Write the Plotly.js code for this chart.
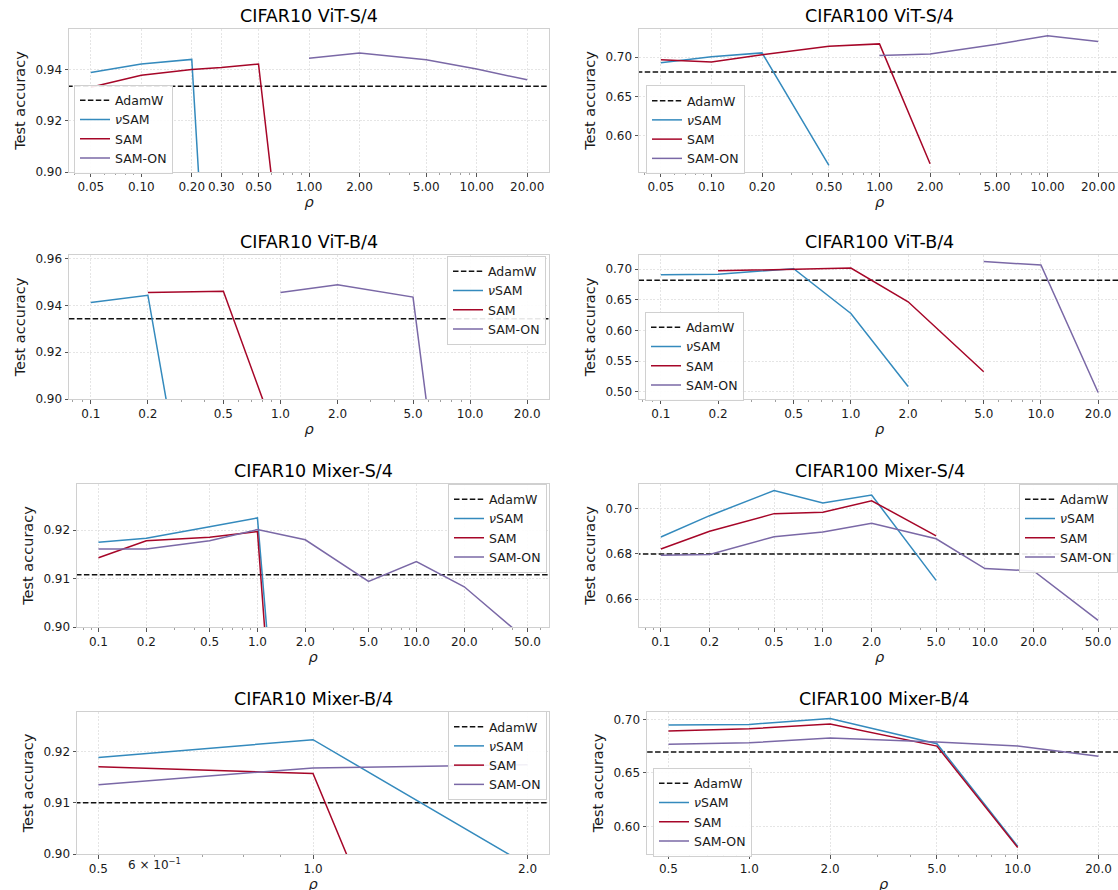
<!DOCTYPE html>
<html><head><meta charset="utf-8">
<script src="https://cdn.plot.ly/plotly-3.0.1.min.js"></script>
<style>html,body{margin:0;padding:0;overflow:hidden;background:#fff}#chart{width:1122px;height:900px}</style>
</head><body><div id="chart"></div><script>
// ---------------- DATA ----------------
// CIFAR10 ViT-S/4
const c10vits_nuSAM_rho = [0.05, 0.1, 0.2, 0.3];
const c10vits_nuSAM_acc = [0.9390, 0.9423, 0.9441, 0.750];
const c10vits_SAM_rho = [0.05, 0.1, 0.2, 0.3, 0.5, 1.0];
const c10vits_SAM_acc = [0.9332, 0.9379, 0.9401, 0.9409, 0.9423, 0.770];
const c10vits_SAMON_rho = [1, 2, 5, 10, 20];
const c10vits_SAMON_acc = [0.9445, 0.9466, 0.9440, 0.9403, 0.9361];
const c10vits_adamw = 0.9336;
const c10vits_ticks = [0.05, 0.1, 0.2, 0.3, 0.5, 1, 2, 5, 10, 20];

// CIFAR100 ViT-S/4
const c100vits_nuSAM_rho = [0.05, 0.1, 0.2, 0.5];
const c100vits_nuSAM_acc = [0.6930, 0.7005, 0.7055, 0.5620];
const c100vits_SAM_rho = [0.05, 0.1, 0.2, 0.5, 1, 2];
const c100vits_SAM_acc = [0.6968, 0.6940, 0.7030, 0.7140, 0.7170, 0.5640];
const c100vits_SAMON_rho = [1, 2, 5, 10, 20];
const c100vits_SAMON_acc = [0.7022, 0.7040, 0.7165, 0.7275, 0.7200];
const c100vits_adamw = 0.6812;
const c100vits_ticks = [0.05, 0.1, 0.2, 0.5, 1, 2, 5, 10, 20];

// CIFAR10 ViT-B/4
const c10vitb_nuSAM_rho = [0.1, 0.2, 0.5];
const c10vitb_nuSAM_acc = [0.9413, 0.9444, 0.760];
const c10vitb_SAM_rho = [0.2, 0.5, 1.0];
const c10vitb_SAM_acc = [0.9456, 0.9461, 0.879];
const c10vitb_SAMON_rho = [1, 2, 5, 10];
const c10vitb_SAMON_acc = [0.9456, 0.9489, 0.9436, 0.753];
const c10vitb_adamw = 0.9343;
const c10vitb_ticks = [0.1, 0.2, 0.5, 1, 2, 5, 10, 20];

// CIFAR100 ViT-B/4
const c100vitb_nuSAM_rho = [0.1, 0.2, 0.5, 1, 2];
const c100vitb_nuSAM_acc = [0.6910, 0.6920, 0.7010, 0.6280, 0.5090];
const c100vitb_SAM_rho = [0.2, 0.5, 1, 2, 5];
const c100vitb_SAM_acc = [0.6975, 0.6995, 0.7020, 0.6470, 0.5330];
const c100vitb_SAMON_rho = [5, 10, 20];
const c100vitb_SAMON_acc = [0.7125, 0.7070, 0.4990];
const c100vitb_adamw = 0.6820;
const c100vitb_ticks = [0.1, 0.2, 0.5, 1, 2, 5, 10, 20];

// CIFAR10 Mixer-S/4
const c10mixs_nuSAM_rho = [0.1, 0.2, 0.5, 1, 2];
const c10mixs_nuSAM_acc = [0.9175, 0.9183, 0.9207, 0.9225, 0.805];
const c10mixs_SAM_rho = [0.1, 0.2, 0.5, 1, 2];
const c10mixs_SAM_acc = [0.9143, 0.9178, 0.9185, 0.9197, 0.787];
const c10mixs_SAMON_rho = [0.1, 0.2, 0.5, 1, 2, 5, 10, 20, 50];
const c10mixs_SAMON_acc = [0.9161, 0.9161, 0.9178, 0.9201, 0.9180, 0.9094, 0.9135, 0.9083, 0.8972];
const c10mixs_adamw = 0.9108;
const c10mixs_ticks = [0.1, 0.2, 0.5, 1, 2, 5, 10, 20, 50];

// CIFAR100 Mixer-S/4
const c100mixs_nuSAM_rho = [0.1, 0.2, 0.5, 1, 2, 5];
const c100mixs_nuSAM_acc = [0.6875, 0.6969, 0.7080, 0.7025, 0.7060, 0.6683];
const c100mixs_SAM_rho = [0.1, 0.2, 0.5, 1, 2, 5];
const c100mixs_SAM_acc = [0.6822, 0.6900, 0.6978, 0.6984, 0.7035, 0.6880];
const c100mixs_SAMON_rho = [0.1, 0.2, 0.5, 1, 2, 5, 10, 20, 50];
const c100mixs_SAMON_acc = [0.6794, 0.6797, 0.6876, 0.6897, 0.6935, 0.6867, 0.6735, 0.6725, 0.6506];
const c100mixs_adamw = 0.6800;
const c100mixs_ticks = [0.1, 0.2, 0.5, 1, 2, 5, 10, 20, 50];

// CIFAR10 Mixer-B/4
const c10mixb_nuSAM_rho = [0.5, 1, 2];
const c10mixb_nuSAM_acc = [0.9188, 0.9223, 0.8978];
const c10mixb_SAM_rho = [0.5, 1, 2];
const c10mixb_SAM_acc = [0.9170, 0.9157, 0.815];
const c10mixb_SAMON_rho = [0.5, 1, 2];
const c10mixb_SAMON_acc = [0.9135, 0.9168, 0.9174];
const c10mixb_adamw = 0.9100;
const c10mixb_ticks = [0.5, 1, 2];

// CIFAR100 Mixer-B/4
const c100mixb_nuSAM_rho = [0.5, 1, 2, 5, 10];
const c100mixb_nuSAM_acc = [0.6947, 0.6953, 0.7009, 0.6773, 0.5816];
const c100mixb_SAM_rho = [0.5, 1, 2, 5, 10];
const c100mixb_SAM_acc = [0.6891, 0.6913, 0.6956, 0.6751, 0.5804];
const c100mixb_SAMON_rho = [0.5, 1, 2, 5, 10, 20];
const c100mixb_SAMON_acc = [0.6767, 0.6782, 0.6826, 0.6788, 0.6751, 0.6657];
const c100mixb_adamw = 0.6695;
const c100mixb_ticks = [0.5, 1, 2, 5, 10, 20];

const seriesNames = ['AdamW', '<i>ν</i>SAM', 'SAM', 'SAM-ON'];

// ---------------- LAYOUT / STYLE ----------------
const W = 1122, H = 900;
const FONT = 'DejaVu Sans, Liberation Sans, sans-serif';
const COLORS = {nu: '#348ABD', sam: '#A60628', samon: '#7A68A6', adamw: '#111111'};

const panels = [
  {title:'CIFAR10 ViT-S/4', nu:[c10vits_nuSAM_rho,c10vits_nuSAM_acc], sam:[c10vits_SAM_rho,c10vits_SAM_acc], samon:[c10vits_SAMON_rho,c10vits_SAMON_acc], adamw:c10vits_adamw, ticks:c10vits_ticks, dec:2,
   xr:[-1.431,1.431], yr:[0.90,0.956], yt:[0.90,0.92,0.94], px:[69,549], py:[29,172], leg:[74,129]},
  {title:'CIFAR100 ViT-S/4', nu:[c100vits_nuSAM_rho,c100vits_nuSAM_acc], sam:[c100vits_SAM_rho,c100vits_SAM_acc], samon:[c100vits_SAMON_rho,c100vits_SAMON_acc], adamw:c100vits_adamw, ticks:c100vits_ticks, dec:2,
   xr:[-1.431,1.431], yr:[0.5535,0.736], yt:[0.60,0.65,0.70], px:[639,1120], py:[29,172], leg:[646,129.5]},
  {title:'CIFAR10 ViT-B/4', nu:[c10vitb_nuSAM_rho,c10vitb_nuSAM_acc], sam:[c10vitb_SAM_rho,c10vitb_SAM_acc], samon:[c10vitb_SAMON_rho,c10vitb_SAMON_acc], adamw:c10vitb_adamw, ticks:c10vitb_ticks, dec:1,
   xr:[-1.115,1.416], yr:[0.90,0.9616], yt:[0.90,0.92,0.94,0.96], px:[69,549], py:[255,399], leg:[447,300]},
  {title:'CIFAR100 ViT-B/4', nu:[c100vitb_nuSAM_rho,c100vitb_nuSAM_acc], sam:[c100vitb_SAM_rho,c100vitb_SAM_acc], samon:[c100vitb_SAMON_rho,c100vitb_SAMON_acc], adamw:c100vitb_adamw, ticks:c100vitb_ticks, dec:1,
   xr:[-1.115,1.416], yr:[0.4885,0.7233], yt:[0.50,0.55,0.60,0.65,0.70], px:[639,1120], py:[255,399], leg:[645,356]},
  {title:'CIFAR10 Mixer-S/4', nu:[c10mixs_nuSAM_rho,c10mixs_nuSAM_acc], sam:[c10mixs_SAM_rho,c10mixs_SAM_acc], samon:[c10mixs_SAMON_rho,c10mixs_SAMON_acc], adamw:c10mixs_adamw, ticks:c10mixs_ticks, dec:1,
   xr:[-1.135,1.834], yr:[0.90,0.9295], yt:[0.90,0.91,0.92], px:[77,549], py:[484,627], leg:[448,528]},
  {title:'CIFAR100 Mixer-S/4', nu:[c100mixs_nuSAM_rho,c100mixs_nuSAM_acc], sam:[c100mixs_SAM_rho,c100mixs_SAM_acc], samon:[c100mixs_SAMON_rho,c100mixs_SAMON_acc], adamw:c100mixs_adamw, ticks:c100mixs_ticks, dec:1,
   xr:[-1.135,1.834], yr:[0.6477,0.7109], yt:[0.66,0.68,0.70], px:[639,1120], py:[484,627], leg:[1019,528]},
  {title:'CIFAR10 Mixer-B/4', nu:[c10mixb_nuSAM_rho,c10mixb_nuSAM_acc], sam:[c10mixb_SAM_rho,c10mixb_SAM_acc], samon:[c10mixb_SAMON_rho,c10mixb_SAMON_acc], adamw:c10mixb_adamw, ticks:c10mixb_ticks, dec:1,
   xr:[-0.331,0.331], yr:[0.90,0.9277], yt:[0.90,0.91,0.92], px:[77,549], py:[712,854], leg:[448,755.5], extraLabel:{v:0.6, text:'6 × 10<sup>−1</sup>'}},
  {title:'CIFAR100 Mixer-B/4', nu:[c100mixb_nuSAM_rho,c100mixb_nuSAM_acc], sam:[c100mixb_SAM_rho,c100mixb_SAM_acc], samon:[c100mixb_SAMON_rho,c100mixb_SAMON_acc], adamw:c100mixb_adamw, ticks:c100mixb_ticks, dec:1,
   xr:[-0.381,1.381], yr:[0.5744,0.7069], yt:[0.60,0.65,0.70], px:[647,1120], py:[712,854], leg:[653,812]}
];

function minorTicks(xr, major) {
  const out = [];
  for (let k = -3; k <= 3; k++) for (let m = 1; m <= 9; m++) {
    const v = m * Math.pow(10, k);
    const lv = Math.log10(v);
    if (lv < xr[0] || lv > xr[1]) continue;
    if (major.some(t => Math.abs(Math.log10(t) - lv) < 1e-6)) continue;
    out.push(v);
  }
  return out;
}

const data = [];
const layout = {
  width: W, height: H,
  margin: {l: 0, r: 0, t: 0, b: 0},
  paper_bgcolor: '#ffffff', plot_bgcolor: '#ffffff',
  font: {family: FONT, size: 12, color: '#1a1a1a'},
  annotations: [],
  showlegend: true
};

panels.forEach((p, i) => {
  const n = i + 1;
  const sfx = n === 1 ? '' : String(n);
  const xa = 'x' + sfx, ya = 'y' + sfx;
  const lg = 'legend' + sfx;
  const common = {xaxis: xa, yaxis: ya, legend: lg, mode: 'lines', hoverinfo: 'skip'};
  data.push(Object.assign({}, common, {x: [Math.pow(10, p.xr[0] - 1), Math.pow(10, p.xr[1] + 1)], y: [p.adamw, p.adamw], name: seriesNames[0], line: {color: COLORS.adamw, width: 1.5, dash: '5.5px,2.4px'}}));
  data.push(Object.assign({}, common, {x: p.nu[0], y: p.nu[1], name: seriesNames[1], line: {color: COLORS.nu, width: 1.5}}));
  data.push(Object.assign({}, common, {x: p.sam[0], y: p.sam[1], name: seriesNames[2], line: {color: COLORS.sam, width: 1.5}}));
  data.push(Object.assign({}, common, {x: p.samon[0], y: p.samon[1], name: seriesNames[3], line: {color: COLORS.samon, width: 1.5}}));

  const axBase = {
    showline: true, mirror: true, linecolor: '#d0d0d0', linewidth: 1,
    showgrid: true, gridcolor: '#dedede', gridwidth: 0.8, griddash: '2px,1.5px',
    ticks: 'outside', ticklen: 3.5, tickwidth: 1, tickcolor: '#555',
    zeroline: false, automargin: false, tickangle: 0,
    tickfont: {family: FONT, size: 12, color: '#1a1a1a'}
  };
  layout['xaxis' + sfx] = Object.assign({}, axBase, {
    type: 'log', range: p.xr, anchor: ya,
    domain: [p.px[0] / W, p.px[1] / W],
    tickmode: 'array', tickvals: p.ticks, ticktext: p.ticks.map(v => v.toFixed(p.dec)),
    minor: {tickmode: 'array', tickvals: minorTicks(p.xr, p.ticks), ticks: 'outside', ticklen: 2, tickwidth: 0.8, tickcolor: '#888', showgrid: false},
    title: {text: '<i>ρ</i>', font: {family: FONT, size: 14.5, color: '#1a1a1a'}, standoff: 3}
  });
  layout['yaxis' + sfx] = Object.assign({}, axBase, {
    range: p.yr, anchor: xa,
    domain: [1 - p.py[1] / H, 1 - p.py[0] / H],
    tickmode: 'array', tickvals: p.yt, ticktext: p.yt.map(v => v.toFixed(2)),
    title: {text: 'Test accuracy', font: {family: FONT, size: 14.5, color: '#1a1a1a'}, standoff: 6}
  });
  layout[lg] = {
    x: p.leg[0] / W, y: 1 - p.leg[1] / H, xref: 'paper', yref: 'paper',
    xanchor: 'left', yanchor: 'middle',
    bgcolor: 'rgba(255,255,255,0.9)', bordercolor: '#d0d0d0', borderwidth: 1,
    font: {family: FONT, size: 12.5, color: '#1a1a1a'},
    itemwidth: 30, tracegroupgap: 0
  };
  layout.annotations.push({
    text: p.title, xref: 'paper', yref: 'paper',
    x: (p.px[0] + p.px[1]) / 2 / W, y: 1 - p.py[0] / H,
    xanchor: 'center', yanchor: 'bottom', yshift: 1, showarrow: false,
    font: {family: FONT, size: 17.5, color: '#000'}
  });
  if (p.extraLabel) {
    layout.annotations.push({
      text: p.extraLabel.text, xref: xa, yref: 'paper',
      x: Math.log10(p.extraLabel.v), y: 1 - p.py[1] / H,
      xanchor: 'center', yanchor: 'top', yshift: 0, showarrow: false,
      font: {family: FONT, size: 12, color: '#1a1a1a'}
    });
  }
});

Plotly.newPlot('chart', data, layout, {displayModeBar: false, staticPlot: true});
</script></body></html>
